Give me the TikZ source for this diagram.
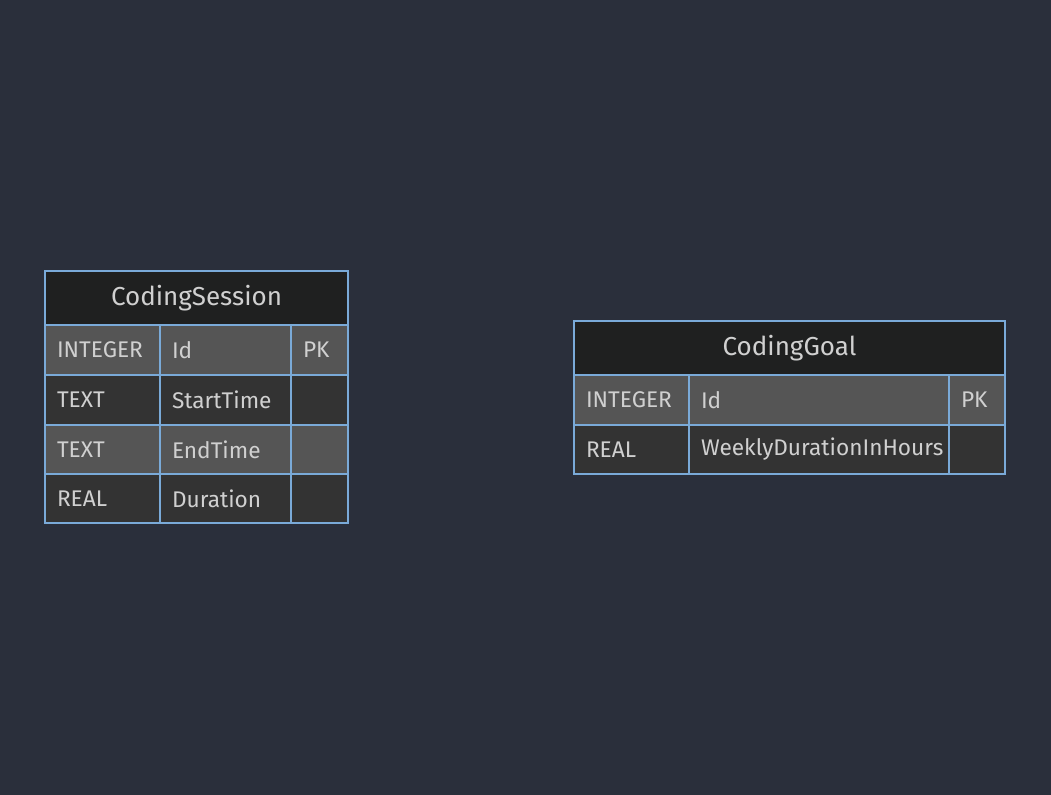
\documentclass[tikz,border=0pt]{standalone}
\usepackage{fontspec}
\setmainfont{Fira Sans}
\usetikzlibrary{positioning}

\definecolor{bgcol}{HTML}{2A2F3B}
\definecolor{edgecol}{HTML}{7AAAD8}
\definecolor{headcol}{HTML}{1F2020}
\definecolor{oddcol}{HTML}{555555}
\definecolor{evencol}{HTML}{333333}
\definecolor{txtcol}{HTML}{D0D0D0}

\begin{document}
\begin{tikzpicture}[
    x = 0.75pt, y = -0.75pt, % one unit is one pixel
    cell/.style = {
        draw = edgecol,
        line width = 1.5pt,
        outer sep = 0pt,
        inner xsep = 9pt,
        inner ysep = 0pt,
        anchor = north west,
        text = txtcol,
        font = \fontsize{17}{19}\selectfont,
        align = left,
        minimum height = 37.5pt
    },
    head/.style = {
        cell,
        fill = headcol,
        align = center,
        inner xsep = 0pt,
        font = \fontsize{19.5}{22}\selectfont,
        minimum height = 40.5pt
    },
    odd/.style = {cell, fill = oddcol},
    even/.style = {cell, fill = evencol}
    ]

    \fill[bgcol] (0,0) rectangle (1051,795);
    \useasboundingbox (0,0) rectangle (1051,795);

    % CodingSession
    \node[head, text width = 227.25pt] (sess) at (45,271) {CodingSession};
    \node[odd, text width = 68.25pt] (sess-t1) at (45,325) {INTEGER};
    \node[odd, text width = 80.25pt] (sess-n1) at (160,325) {Id};
    \node[odd, text width = 24.75pt] (sess-k1) at (291,325) {PK};
    \node[even, text width = 68.25pt] (sess-t2) at (45,375) {TEXT};
    \node[even, text width = 80.25pt] (sess-n2) at (160,375) {StartTime};
    \node[even, text width = 24.75pt] (sess-k2) at (291,375) {};
    \node[odd, text width = 68.25pt] (sess-t3) at (45,425) {TEXT};
    \node[odd, text width = 80.25pt] (sess-n3) at (160,425) {EndTime};
    \node[odd, text width = 24.75pt] (sess-k3) at (291,425) {};
    \node[even, text width = 68.25pt, minimum height = 36.75pt] (sess-t4) at (45,474) {REAL};
    \node[even, text width = 80.25pt, minimum height = 36.75pt] (sess-n4) at (160,474) {Duration};
    \node[even, text width = 24.75pt, minimum height = 36.75pt] (sess-k4) at (291,474) {};

    % CodingGoal
    \node[head, text width = 323.25pt] (goal) at (574,321) {CodingGoal};
    \node[odd, text width = 68.25pt] (goal-t1) at (574,375) {INTEGER};
    \node[odd, text width = 177pt] (goal-n1) at (689,375) {Id};
    \node[odd, text width = 24pt] (goal-k1) at (949,375) {PK};
    \node[even, text width = 68.25pt, minimum height = 36.75pt] (goal-t2) at (574,425) {REAL};
    \node[even, text width = 177pt, minimum height = 36.75pt] (goal-n2) at (689,425) {WeeklyDurationInHours};
    \node[even, text width = 24pt, minimum height = 36.75pt] (goal-k2) at (949,425) {};
\end{tikzpicture}
\end{document}
